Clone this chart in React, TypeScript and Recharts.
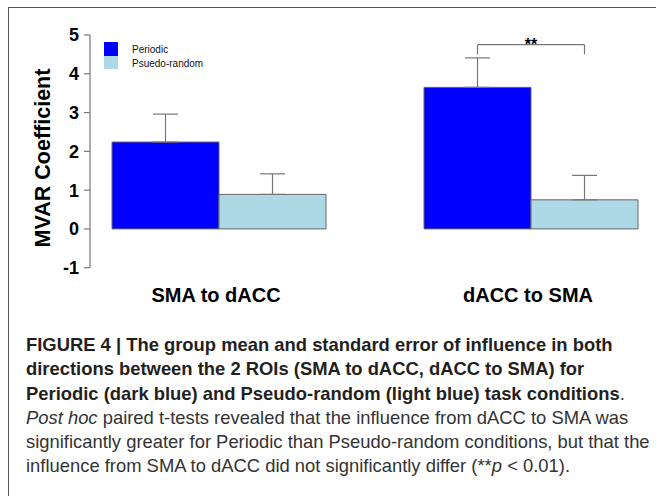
import React from "react";
import {
  Bar,
  BarChart,
  ErrorBar,
  Legend,
  ReferenceLine,
  XAxis,
  YAxis,
} from "recharts";

// Values (group mean and standard error).
const CATEGORIES = ["SMA to dACC", "dACC to SMA"];
const PERIODIC = [2.24, 3.65];
const PERIODIC_SE = [0.72, 0.76];
const PSEUDO = [0.89, 0.75];
const PSEUDO_SE = [0.53, 0.63];
const Y_TICKS = [-1, 0, 1, 2, 3, 4, 5];

const CAPTION_BOLD = [
  "FIGURE 4 | The group mean and standard error of influence in both",
  "directions between the 2 ROIs (SMA to dACC, dACC to SMA) for",
];

const DATA = CATEGORIES.map((name, i) => ({
  pos: i + 1,
  name,
  periodic: PERIODIC[i],
  periodicErr: [0, PERIODIC_SE[i]],
  pseudo: PSEUDO[i],
  pseudoErr: [0, PSEUDO_SE[i]],
}));

const FONT = "'Liberation Sans', Arial, sans-serif";

function LegendBox(props: any) {
  const items = props.payload || [];
  return (
    <div style={{ fontFamily: FONT, fontSize: 10, color: "#111" }}>
      {items.map((it: any) => (
        <div
          key={it.value}
          style={{ display: "flex", alignItems: "center", height: 13.5 }}
        >
          <span
            style={{
              display: "inline-block",
              width: 14,
              height: 13.5,
              background: it.color,
            }}
          />
          <span style={{ marginLeft: 14, lineHeight: "13.5px", marginTop: 2 }}>
            {it.value}
          </span>
        </div>
      ))}
    </div>
  );
}

function YLabel() {
  return (
    <text
      x={42.5}
      y={158}
      transform="rotate(-90 42.5 158)"
      textAnchor="middle"
      dominantBaseline="central"
      fontFamily={FONT}
      fontSize={21.5}
      fontWeight="bold"
      fill="#000"
    >
      MVAR Coefficient
    </text>
  );
}

export default function App() {
  const lineStyle = { stroke: "#777", strokeWidth: 1.2 };
  return (
    <div
      style={{
        position: "absolute",
        left: 0,
        top: 0,
        width: 656,
        height: 496,
        overflow: "hidden",
        background: "#fff",
      }}
    >
      <div
        style={{
          position: "absolute",
          left: 8,
          top: 7,
          width: 700,
          height: 520,
          borderTop: "1.5px solid #555",
          borderLeft: "1.5px solid #555",
        }}
      />
      <div style={{ position: "absolute", left: 0, top: 0 }}>
        <BarChart
          width={656}
          height={320}
          data={DATA}
          margin={{ top: 35, right: 6, left: 40, bottom: 22.3 }}
          barGap={0}
        >
          <XAxis
            dataKey="pos"
            type="number"
            domain={[0.5865, 2.3814]}
            allowDataOverflow
            ticks={[1, 2]}
            tickFormatter={(v) => CATEGORIES[(v as number) - 1]}
            axisLine={false}
            tickLine={false}
            tickSize={0}
            tickMargin={20}
            height={30}
            tick={{
              fill: "#000",
              fontSize: 20,
              fontWeight: "bold",
              fontFamily: FONT,
              dx: -3,
            }}
          />
          <YAxis
            domain={[-1, 5]}
            ticks={Y_TICKS}
            allowDataOverflow
            width={50}
            tickSize={6}
            tickMargin={5}
            axisLine={lineStyle}
            tickLine={lineStyle}
            tick={{
              fill: "#000",
              fontSize: 18,
              fontWeight: "bold",
              fontFamily: FONT,
            }}
            label={{ content: () => <YLabel /> }}
          />
          <Legend
            layout="vertical"
            align="center"
            verticalAlign="middle"
            content={<LegendBox />}
            wrapperStyle={{ left: 104, top: 42, width: 200 }}
          />
          <Bar
            dataKey="periodic"
            name="Periodic"
            fill="#0000ff"
            stroke="#666"
            strokeWidth={1}
            barSize={107}
            isAnimationActive={false}
          >
            <ErrorBar
              dataKey="periodicErr"
              width={12.5}
              stroke="#777"
              strokeWidth={1.2}
              direction="y"
              isAnimationActive={false}
            />
          </Bar>
          <Bar
            dataKey="pseudo"
            name="Psuedo-random"
            fill="#add8e6"
            stroke="#666"
            strokeWidth={1}
            barSize={107}
            isAnimationActive={false}
          >
            <ErrorBar
              dataKey="pseudoErr"
              width={12.5}
              stroke="#777"
              strokeWidth={1.2}
              direction="y"
              isAnimationActive={false}
            />
          </Bar>
          {/* significance bracket between the two dACC to SMA bars */}
          <ReferenceLine
            segment={[
              { x: 1.8285, y: 4.75 },
              { x: 2.1715, y: 4.75 },
            ]}
            stroke="#777"
            strokeWidth={1.2}
            label={{
              value: "**",
              position: "top",
              offset: -5,
              fill: "#000",
              fontSize: 16,
              fontWeight: "bold",
              fontFamily: FONT,
            }}
          />
          <ReferenceLine
            segment={[
              { x: 1.8285, y: 4.75 },
              { x: 1.8285, y: 4.5 },
            ]}
            stroke="#777"
            strokeWidth={1.2}
          />
          <ReferenceLine
            segment={[
              { x: 2.1715, y: 4.75 },
              { x: 2.1715, y: 4.5 },
            ]}
            stroke="#777"
            strokeWidth={1.2}
          />
        </BarChart>
      </div>
      <div
        style={{
          position: "absolute",
          left: 26,
          top: 333,
          fontFamily: FONT,
          fontSize: 18.4,
          lineHeight: "24.3px",
          color: "#333",
          whiteSpace: "nowrap",
        }}
      >
        {CAPTION_BOLD.map((t) => (
          <div key={t} style={{ fontWeight: "bold", color: "#231f20" }}>
            {t}
          </div>
        ))}
        <div>
          <b style={{ color: "#231f20" }}>
            Periodic (dark blue) and Pseudo-random (light blue) task conditions
          </b>
          .
        </div>
        <div>
          <i>Post hoc</i> paired t-tests revealed that the influence from dACC
          to SMA was
        </div>
        <div>
          significantly greater for Periodic than Pseudo-random conditions, but
          that the
        </div>
        <div>
          influence from SMA to dACC did not significantly differ (**
          <i>p</i> &lt; 0.01).
        </div>
      </div>
    </div>
  );
}
